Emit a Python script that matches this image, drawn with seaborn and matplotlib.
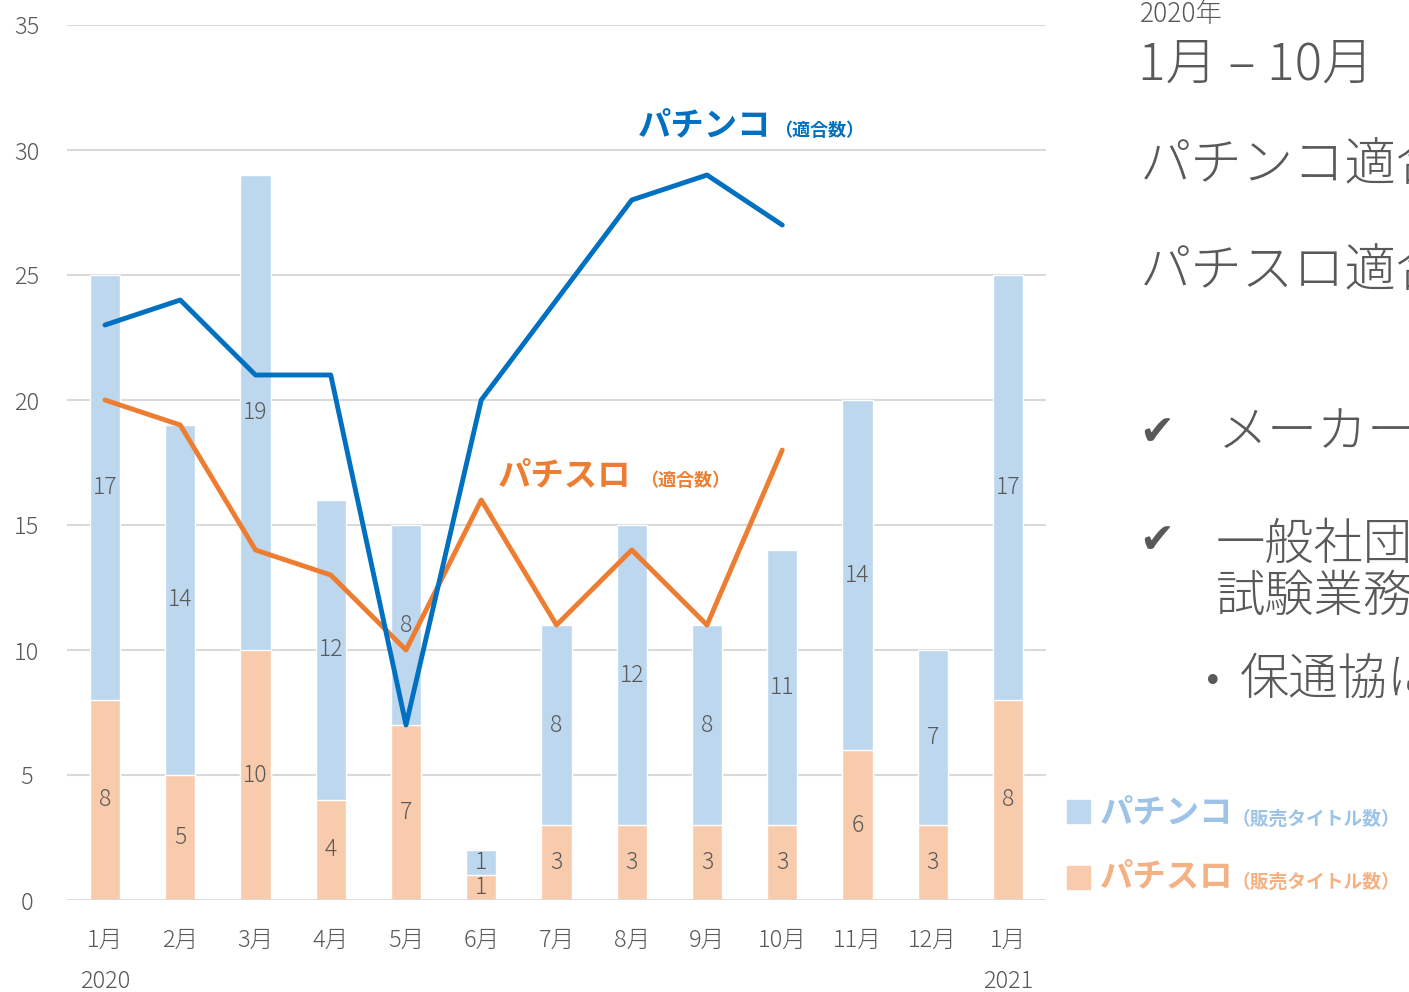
import matplotlib
matplotlib.use("Agg")
import matplotlib.pyplot as plt
import seaborn as sns
import pandas as pd
import numpy as np

# data
months = ['1月', '2月', '3月', '4月', '5月', '6月', '7月', '8月', '9月', '10月', '11月', '12月', '1月']
pachislot_titles = [8, 5, 10, 4, 7, 1, 3, 3, 3, 3, 6, 3, 8]
pachinko_titles = [17, 14, 19, 12, 8, 1, 8, 12, 8, 11, 14, 7, 17]
pachinko_approved = [23, 24, 21, 21, 7, 20, 24, 28, 29, 27]
pachislot_approved = [20, 19, 14, 13, 10, 16, 11, 14, 11, 18]

LIGHT_BLUE = '#BDD7EE'
LIGHT_ORANGE = '#F8CBAD'
DARK_BLUE = '#0070C0'
ORANGE = '#ED7D31'
GRAY = '#595959'
W, H = 1409, 992

sns.set_style("white")
plt.rcParams['font.family'] = ['Noto Sans CJK JP', 'DejaVu Sans']

df = pd.DataFrame({
    'month': [f'{i}' for i in range(len(months))],
    'total': np.add(pachislot_titles, pachinko_titles),
    'slot': pachislot_titles,
})

fig = plt.figure(figsize=(W / 100, H / 100), dpi=100)
ax = fig.add_axes([67 / W, 1 - 900 / H, (1046 - 67) / W, (900 - 25) / H])

for v in range(5, 40, 5):
    ax.axhline(v, color='#D9D9D9', lw=1.5, zorder=0)

sns.barplot(data=df, x='month', y='total', color=LIGHT_BLUE, saturation=1,
            width=0.4, ax=ax, zorder=2)
sns.barplot(data=df, x='month', y='slot', color=LIGHT_ORANGE, saturation=1,
            width=0.4, ax=ax, zorder=2)
ax.axhline(0, color='#D9D9D9', lw=2, zorder=3)

# segment labels
for i, (s, p) in enumerate(zip(pachislot_titles, pachinko_titles)):
    ax.text(i, s / 2, str(s), ha='center', va='center', fontsize=16.5, color=GRAY,
            fontweight='light', zorder=4)
    ax.text(i, s + p / 2, str(p), ha='center', va='center', fontsize=16.5, color=GRAY,
            fontweight='light', zorder=4)

xs = np.arange(len(pachinko_approved))
sns.lineplot(x=xs, y=pachislot_approved, color=ORANGE, lw=3.5, ax=ax, zorder=5)
sns.lineplot(x=xs, y=pachinko_approved, color=DARK_BLUE, lw=3.5, ax=ax, zorder=6)

ax.set_xlim(-0.505, 12.505)
ax.set_ylim(0, 35)
ax.set_yticks(range(0, 40, 5))
ax.set_xticks(range(len(months)))
ax.set_xticklabels(months)
ax.tick_params(axis='x', length=0, pad=20, labelsize=17, labelcolor=GRAY)
ax.tick_params(axis='y', length=0, pad=29, labelsize=17, labelcolor=GRAY)
for lab in ax.get_yticklabels() + ax.get_xticklabels():
    lab.set_fontweight('light')
for lab in ax.get_yticklabels():
    lab.set_horizontalalignment('center')
ax.set_xlabel('')
ax.set_ylabel('')
sns.despine(ax=ax, left=True, bottom=True)

ax.text(0, -3.25, '2020', ha='center', va='center', fontsize=17, color=GRAY, fontweight='light')
ax.text(12, -3.25, '2021', ha='center', va='center', fontsize=17, color=GRAY, fontweight='light')


def fx(x):
    return x / W


def fy(y):
    return 1 - y / H


# line labels
fig.text(fx(638), fy(126), 'パチンコ', fontsize=24, fontweight='bold', color=DARK_BLUE, va='center')
fig.text(fx(774), fy(131), '（適合数）', fontsize=13, fontweight='bold', color=DARK_BLUE, va='center')
fig.text(fx(498), fy(476), 'パチスロ', fontsize=24, fontweight='bold', color=ORANGE, va='center')
fig.text(fx(640), fy(481), '（適合数）', fontsize=13, fontweight='bold', color=ORANGE, va='center')

# legend at bottom right
fig.patches.append(plt.Rectangle((fx(1067), fy(823)), 23 / W, 23 / H, color=LIGHT_BLUE,
                                 transform=fig.transFigure, figure=fig))
fig.patches.append(plt.Rectangle((fx(1067), fy(889)), 23 / W, 23 / H, color=LIGHT_ORANGE,
                                 transform=fig.transFigure, figure=fig))
fig.text(fx(1100), fy(813), 'パチンコ', fontsize=24, fontweight='bold', color='#9DC3E6', va='center')
fig.text(fx(1232), fy(819), '（販売タイトル数）', fontsize=13.5, fontweight='bold', color='#9DC3E6', va='center')
fig.text(fx(1100), fy(877), 'パチスロ', fontsize=24, fontweight='bold', color='#F4B183', va='center')
fig.text(fx(1232), fy(882), '（販売タイトル数）', fontsize=13.5, fontweight='bold', color='#F4B183', va='center')

# side text (runs off the right edge, as in the reference)
side = dict(color=GRAY, va='center', fontweight='light')
fig.text(fx(1140), fy(14), '2020年', fontsize=19, **side)
fig.text(fx(1138), fy(65), '1月 – 10月', fontsize=37, **side)
fig.text(fx(1140), fy(166), 'パチンコ適合数', fontsize=37, **side)
fig.text(fx(1140), fy(272), 'パチスロ適合数', fontsize=37, **side)
fig.text(fx(1139), fy(433), '✔', fontsize=30, color=GRAY, va='center', family=['DejaVu Sans'])
fig.text(fx(1218), fy(433), 'メーカーの', fontsize=36, **side)
fig.text(fx(1139), fy(541), '✔', fontsize=30, color=GRAY, va='center', family=['DejaVu Sans'])
fig.text(fx(1216), fy(545), '一般社団法人', fontsize=35.5, **side)
fig.text(fx(1216), fy(597), '試験業務が', fontsize=35.5, **side)
fig.text(fx(1203), fy(682), '•', fontsize=24, color=GRAY, va='center', family=['DejaVu Sans'])
fig.text(fx(1240), fy(680), '保通協による', fontsize=35.5, **side)

fig.savefig('out.png', dpi=100)
